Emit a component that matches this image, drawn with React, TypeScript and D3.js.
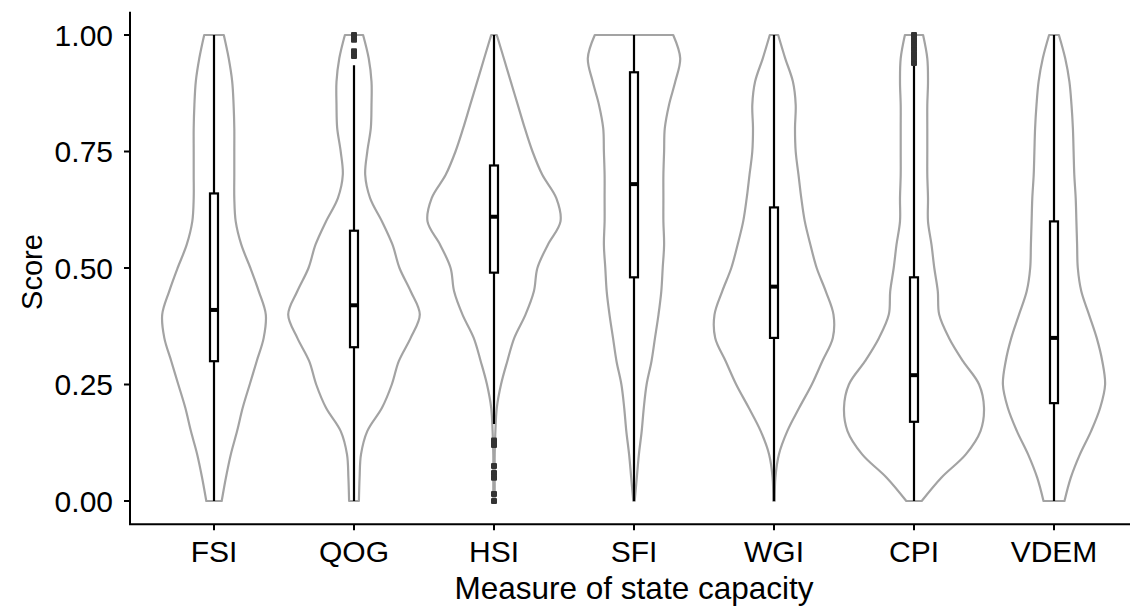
import React from "react";
import * as d3 from "d3";

// Measures shown along the x axis
const measures = ["FSI", "QOG", "HSI", "SFI", "WGI", "CPI", "VDEM"];

// Score grid on which each violin's density is given (0.00, 0.05, ..., 1.00)
const densityGrid = [0, 0.05, 0.1, 0.15, 0.2, 0.25, 0.3, 0.35, 0.4, 0.45, 0.5, 0.55, 0.6, 0.65, 0.7, 0.75, 0.8, 0.85, 0.9, 0.95, 1];

// Relative kernel density of the scores, one array per measure
const densityFSI = [0.11, 0.17, 0.24, 0.33, 0.41, 0.51, 0.61, 0.71, 0.74, 0.64, 0.52, 0.39, 0.31, 0.29, 0.29, 0.29, 0.29, 0.28, 0.26, 0.21, 0.14];
const densityQOG = [0.07, 0.08, 0.1, 0.19, 0.4, 0.54, 0.64, 0.81, 0.94, 0.81, 0.65, 0.55, 0.4, 0.23, 0.16, 0.19, 0.24, 0.25, 0.25, 0.21, 0.13];
const densityHSI = [0.01, 0.01, 0.01, 0.02, 0.04, 0.1, 0.19, 0.29, 0.45, 0.57, 0.62, 0.77, 0.95, 0.89, 0.69, 0.55, 0.44, 0.34, 0.24, 0.14, 0.04];
const densitySFI = [0.01, 0.04, 0.07, 0.11, 0.14, 0.18, 0.25, 0.3, 0.35, 0.39, 0.41, 0.43, 0.42, 0.42, 0.42, 0.43, 0.44, 0.5, 0.59, 0.66, 0.56];
const densityWGI = [0.01, 0.02, 0.07, 0.19, 0.36, 0.54, 0.69, 0.84, 0.85, 0.74, 0.61, 0.52, 0.44, 0.39, 0.35, 0.31, 0.3, 0.31, 0.27, 0.16, 0.06];
const densityCPI = [0.11, 0.39, 0.74, 0.95, 1.0, 0.93, 0.7, 0.5, 0.36, 0.34, 0.29, 0.25, 0.2, 0.2, 0.19, 0.19, 0.19, 0.19, 0.2, 0.19, 0.13];
const densityVDEM = [0.15, 0.24, 0.37, 0.53, 0.66, 0.73, 0.69, 0.61, 0.5, 0.39, 0.34, 0.33, 0.32, 0.31, 0.29, 0.28, 0.27, 0.25, 0.22, 0.16, 0.07];

// Boxplot summaries: lower whisker, Q1, median, Q3, upper whisker
const whiskerLow = [0, 0, 0.165, 0, 0, 0, 0];
const quartile1 = [0.3, 0.33, 0.49, 0.48, 0.35, 0.17, 0.21];
const medians = [0.41, 0.42, 0.61, 0.68, 0.46, 0.27, 0.35];
const quartile3 = [0.66, 0.58, 0.72, 0.92, 0.63, 0.48, 0.6];
const whiskerHigh = [1, 0.935, 1, 1, 1, 0.935, 1];

// Outlying scores beyond the whiskers
const outliersFSI: number[] = [];
const outliersQOG = [0.955, 0.965, 0.99, 1.0];
const outliersHSI = [0.13, 0.12, 0.075, 0.06, 0.05, 0.015, 0.0];
const outliersSFI: number[] = [];
const outliersWGI: number[] = [];
const outliersCPI = [0.94, 0.95, 0.96, 0.97, 0.98, 0.99, 1.0];
const outliersVDEM: number[] = [];

const yTicks = [0, 0.25, 0.5, 0.75, 1];

const densities = [densityFSI, densityQOG, densityHSI, densitySFI, densityWGI, densityCPI, densityVDEM];
const outliers = [outliersFSI, outliersQOG, outliersHSI, outliersSFI, outliersWGI, outliersCPI, outliersVDEM];

const W = 1130;
const H = 608;
const FONT = "'Liberation Sans', Arial, Helvetica, sans-serif";
const VIOLIN = "#a3a3a3";

export default function App() {
  const left = 130;
  const right = 1138;
  const top = 11.7;
  const bottom = 524.3;

  const x = d3.scaleLinear().domain([0.4, measures.length + 0.6]).range([left, right]);
  const y = d3.scaleLinear().domain([-0.05, 1.05]).range([bottom, top]);
  const halfWidth = d3.scaleLinear().domain([0, 1]).range([0, 70]);

  const boxHalf = 4;
  const tickLen = 6;
  const tickFont = 30;

  return (
    <svg
      width={W}
      height={H}
      style={{ position: "absolute", left: 0, top: 0, background: "#fff" }}
      fontFamily={FONT}
    >
      <rect width={W} height={H} fill="#fff" />
      {measures.map((m, i) => {
        const cx = x(i + 1);
        const pts = densityGrid.map((v, k) => ({ v, d: densities[i][k] }));
        const area = d3
          .area<{ v: number; d: number }>()
          .y((p) => y(p.v))
          .x0((p) => cx - halfWidth(p.d))
          .x1((p) => cx + halfWidth(p.d))
          .curve(d3.curveCatmullRom.alpha(0.5));
        return (
          <g key={m}>
            <path d={area(pts) ?? ""} fill="#fff" stroke={VIOLIN} strokeWidth={2.2} strokeLinejoin="round" />
            <line x1={cx} x2={cx} y1={y(whiskerLow[i])} y2={y(whiskerHigh[i])} stroke="#000" strokeWidth={2.2} />
            <rect
              x={cx - boxHalf}
              y={y(quartile3[i])}
              width={boxHalf * 2}
              height={y(quartile1[i]) - y(quartile3[i])}
              fill="#fff"
              stroke="#000"
              strokeWidth={2.2}
            />
            <line x1={cx - boxHalf} x2={cx + boxHalf} y1={y(medians[i])} y2={y(medians[i])} stroke="#000" strokeWidth={4} />
            {outliers[i].map((o, k) => (
              <rect key={k} x={cx - 3} y={y(o) - 3} width={6} height={6} rx={1} fill="#333" />
            ))}
          </g>
        );
      })}

      {/* y axis */}
      <line x1={left} x2={left} y1={top} y2={bottom} stroke="#000" strokeWidth={2} />
      {yTicks.map((t) => (
        <g key={t}>
          <line x1={left - tickLen} x2={left} y1={y(t)} y2={y(t)} stroke="#000" strokeWidth={2} />
          <text x={left - tickLen - 11} y={y(t)} dy="0.36em" textAnchor="end" fontSize={tickFont} fill="#000">
            {d3.format(".2f")(t)}
          </text>
        </g>
      ))}

      {/* x axis */}
      <line x1={left - 1} x2={right} y1={bottom} y2={bottom} stroke="#000" strokeWidth={2} />
      {measures.map((m, i) => (
        <g key={m}>
          <line x1={x(i + 1)} x2={x(i + 1)} y1={bottom} y2={bottom + tickLen} stroke="#000" strokeWidth={2} />
          <text x={x(i + 1)} y={562} textAnchor="middle" fontSize={tickFont} fill="#000">
            {m}
          </text>
        </g>
      ))}

      <text x={(left + right) / 2} y={599} textAnchor="middle" fontSize={31.5} fill="#000">
        Measure of state capacity
      </text>
      <text
        transform={`translate(${42},${272}) rotate(-90)`}
        textAnchor="middle"
        fontSize={29}
        fill="#000"
      >
        Score
      </text>
    </svg>
  );
}
